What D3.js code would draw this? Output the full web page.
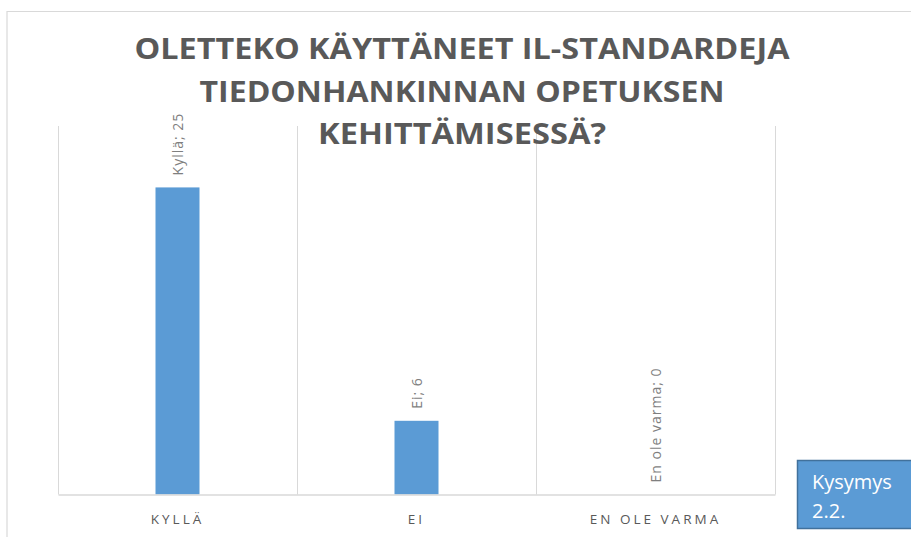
<!DOCTYPE html>
<html><head><meta charset="utf-8">
<script src="https://cdn.jsdelivr.net/npm/d3@7"></script>
<style>body{margin:0;background:#fff}svg{display:block}</style>
</head><body>
<svg id="c" width="911" height="537"></svg>
<script>
const categories = ["Kyllä", "Ei", "En ole varma"];
const axisLabels = ["KYLLÄ", "EI", "EN OLE VARMA"];
const values = [25, 6, 0];
const titleLines = ["OLETTEKO KÄYTTÄNEET IL-STANDARDEJA", "TIEDONHANKINNAN OPETUKSEN", "KEHITTÄMISESSÄ?"];
const titleWidths = [655, 525, 288];
const yDomain = [0, 30];
const boxLines = ["Kysymys", "2.2."];

(function () {
const svg = d3.select("#c");
const grey = "#d9d9d9";

svg.append("path").attr("d", "M7,537 V11.5 H911").attr("fill", "none").attr("stroke", grey).attr("stroke-width", 1.2);

const pL = 58, pR = 775, pT = 126, pB = 494.5;
const x = d3.scaleBand().domain(categories).range([pL, pR]).paddingInner(0).paddingOuter(0);
const y = d3.scaleLinear().domain(yDomain).range([pB, pT]);

const bounds = categories.map(c => x(c)).concat([pR]);
svg.append("g").selectAll("line").data(bounds).join("line")
  .attr("x1", d => Math.round(d) + 0.5).attr("x2", d => Math.round(d) + 0.5)
  .attr("y1", pT).attr("y2", pB)
  .attr("stroke", grey).attr("stroke-width", 1);

const bw = 44;
svg.append("g").selectAll("rect").data(values).join("rect")
  .attr("x", (d, i) => x(categories[i]) + x.bandwidth() / 2 - bw / 2)
  .attr("width", bw)
  .attr("y", d => y(d))
  .attr("height", d => pB - y(d))
  .attr("fill", "#5b9bd5");

const xAxis = d3.axisBottom(x).tickSize(0).tickFormat((d, i) => axisLabels[i]);
const ax = svg.append("g").attr("transform", `translate(0,${pB})`).call(xAxis);
ax.select(".domain").attr("stroke", grey).attr("stroke-width", 1.5);
ax.selectAll("text").attr("dy", 0).attr("y", 29)
  .attr("font-family", "Open Sans, sans-serif").attr("font-size", 13.5)
  .attr("letter-spacing", "3px").attr("fill", "#595959");

svg.append("g").selectAll("text").data(values).join("text")
  .attr("transform", (d, i) => `translate(${x(categories[i]) + x.bandwidth() / 2 + 5},${y(d) - 12}) rotate(-90)`)
  .attr("font-family", "Open Sans, sans-serif").attr("font-size", 14)
  .attr("letter-spacing", "1px")
  .attr("fill", "#7f7f7f")
  .text((d, i) => `${categories[i]}; ${d}`);

const tb = [59, 102, 144];
svg.append("g").selectAll("text").data(titleLines).join("text")
  .attr("x", 462).attr("y", (d, i) => tb[i])
  .attr("text-anchor", "middle")
  .attr("font-family", "Open Sans, sans-serif").attr("font-weight", "bold")
  .attr("font-size", 28).attr("fill", "#595959")
  .attr("textLength", (d, i) => titleWidths[i]).attr("lengthAdjust", "spacingAndGlyphs")
  .text(d => d);

svg.append("rect").attr("x", 797.5).attr("y", 460.5).attr("width", 120).attr("height", 68)
  .attr("fill", "#5b9bd5").attr("stroke", "#41719c").attr("stroke-width", 1.5);
svg.append("g").selectAll("text").data(boxLines).join("text")
  .attr("x", 812).attr("y", (d, i) => 489 + i * 29)
  .attr("font-family", "Open Sans, sans-serif").attr("font-size", 20).attr("fill", "#fff")
  .text(d => d);
})();
</script>
</body></html>
